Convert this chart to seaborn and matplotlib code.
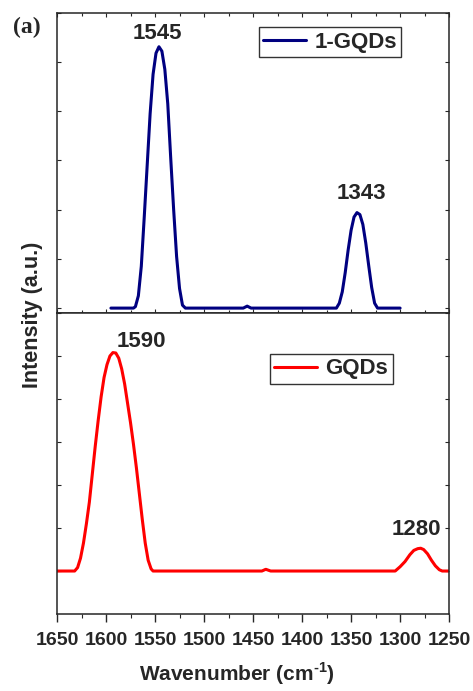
import matplotlib
matplotlib.use("Agg")
import matplotlib.pyplot as plt
import seaborn as sns
import pandas as pd

# ---- data (intensity in arbitrary tick units) ----
wn_1gqds = [1595, 1572, 1570, 1567, 1564, 1561, 1558, 1555, 1552, 1549, 1546, 1543,
            1540, 1537, 1534, 1531, 1528, 1525, 1522, 1519, 1460, 1456, 1452,
            1365, 1362, 1359, 1356, 1353, 1350, 1347, 1344, 1341, 1338, 1335,
            1332, 1329, 1326, 1323, 1300]
int_1gqds = [0, 0, 0.03, 0.25, 0.85, 1.85, 2.9, 3.95, 4.75, 5.18, 5.31, 5.22,
             4.85, 4.15, 3.05, 2.0, 1.05, 0.4, 0.06, 0, 0, 0.04, 0,
             0, 0.1, 0.33, 0.72, 1.18, 1.58, 1.85, 1.94, 1.9, 1.7, 1.32,
             0.86, 0.42, 0.1, 0, 0]

wn_gqds = [1650, 1632, 1629, 1626, 1623, 1620, 1617, 1614, 1611, 1608, 1605, 1602,
           1599, 1596, 1593, 1590, 1587, 1584, 1581, 1578, 1575, 1572, 1569, 1566,
           1563, 1560, 1557, 1554, 1552, 1441, 1437, 1432, 1305, 1300, 1295, 1290,
           1286, 1282, 1279, 1276, 1272, 1268, 1264, 1260, 1257, 1250]
int_gqds = [0, 0, 0.08, 0.3, 0.65, 1.1, 1.6, 2.25, 2.9, 3.5, 4.05, 4.5,
            4.8, 5.0, 5.08, 5.07, 4.95, 4.7, 4.35, 3.9, 3.45, 2.95, 2.4, 1.8,
            1.2, 0.65, 0.25, 0.05, 0, 0, 0.04, 0, 0, 0.1, 0.22, 0.38,
            0.48, 0.52, 0.53, 0.5, 0.4, 0.25, 0.12, 0.03, 0, 0]

peak_labels_top = ["1545", "1343"]
peak_pos_top = [(1548, 5.58), (1339, 2.32)]
peak_labels_bot = ["1590", "1280"]
peak_pos_bot = [(1563.8, 5.33), (1283.7, 0.97)]

x_ticks = [1650, 1600, 1550, 1500, 1450, 1400, 1350, 1300, 1250]

sns.set_style("ticks")
plt.rcParams['font.family'] = ['Liberation Sans', 'DejaVu Sans']
plt.rcParams['font.weight'] = 'bold'
plt.rcParams['mathtext.fontset'] = 'custom'
plt.rcParams['mathtext.rm'] = 'Liberation Sans:bold'
plt.rcParams['mathtext.bf'] = 'Liberation Sans:bold'
plt.rcParams['axes.linewidth'] = 1.1

fig = plt.figure(figsize=(4.73, 6.91), dpi=100)
ax1 = fig.add_axes([0.1205, 0.547, 0.829, 0.4345])
ax2 = fig.add_axes([0.1205, 0.1114, 0.829, 0.4356])

df1 = pd.DataFrame({"wn": wn_1gqds, "I": int_1gqds})
df2 = pd.DataFrame({"wn": wn_gqds, "I": int_gqds})

sns.lineplot(data=df1, x="wn", y="I", ax=ax1, color="#000080", lw=2.2,
             label="1-GQDs", sort=False)
sns.lineplot(data=df2, x="wn", y="I", ax=ax2, color="#ff0000", lw=2.2,
             label="GQDs", sort=False)

for ax in (ax1, ax2):
    ax.set_xlim(1650, 1250)
    ax.set_xticks(x_ticks)
    ax.set_xticks([t - 25 for t in x_ticks[:-1]], minor=True)
    ax.set_yticks(range(0, 7))
    ax.set_ylabel("")
    ax.set_xlabel("")
    for s in ax.spines.values():
        s.set_visible(True)
        s.set_linewidth(1.1)
    ax.tick_params(axis='y', which='both', direction='in', left=True, right=True,
                   labelleft=False, length=3, width=0.8)

ax1.set_ylim(-0.1, 6.0)
ax2.set_ylim(-1.0, 6.0)

ax1.tick_params(axis='x', which='major', direction='in', top=True, bottom=True,
                labelbottom=False, length=3, width=0.8)
ax1.tick_params(axis='x', which='minor', direction='in', top=True, bottom=True,
                length=2, width=0.8)
ax2.tick_params(axis='x', which='major', direction='out', top=False, bottom=True,
                labelsize=14, length=6, width=1.0, pad=7)
ax2.tick_params(axis='x', which='minor', direction='out', top=False, bottom=True,
                length=3, width=0.8)
for lab in ax2.get_xticklabels():
    lab.set_fontweight('bold')

for txt, (x, y) in zip(peak_labels_top, peak_pos_top):
    ax1.annotate(txt, xy=(x, y), ha='center', va='center', fontsize=16, fontweight='bold')
for txt, (x, y) in zip(peak_labels_bot, peak_pos_bot):
    ax2.annotate(txt, xy=(x, y), ha='center', va='center', fontsize=16, fontweight='bold')

leg_kw = dict(loc='upper left', frameon=True, fancybox=False, framealpha=1,
              edgecolor='#333333', handlelength=1.9, handletextpad=0.4,
              borderpad=0.2, borderaxespad=0,
              prop={'weight': 'bold', 'size': 16, 'family': 'Liberation Sans'})
l1 = ax1.legend(bbox_to_anchor=(0.515, 0.952), **leg_kw)
l2 = ax2.legend(bbox_to_anchor=(0.543, 0.864), **leg_kw)
for l in (l1, l2):
    l.get_frame().set_linewidth(1.0)

fig.text(0.5, 0.006, r'Wavenumber (cm$^{\text{-1}}$)', ha='center', va='bottom',
         fontsize=15, fontweight='bold')
fig.text(0.068, 0.545, 'Intensity (a.u.)', rotation=90, ha='center', va='center',
         fontsize=15.5, fontweight='bold')
fig.text(0.028, 0.96, '(a)', ha='left', va='center', fontsize=17, fontweight='bold',
         family=['Liberation Serif', 'DejaVu Serif'])

fig.savefig("out.png", dpi=100)
